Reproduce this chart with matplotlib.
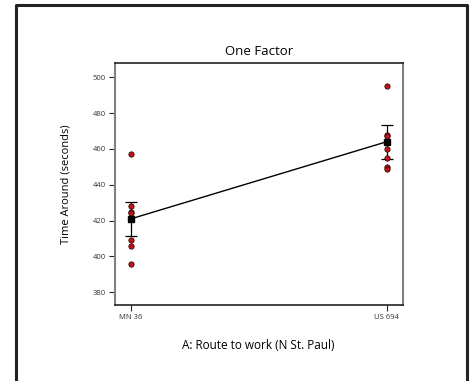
import matplotlib
matplotlib.use("Agg")
import matplotlib.pyplot as plt
from matplotlib.lines import Line2D

plt.rcParams['font.family'] = ['Open Sans', 'DejaVu Sans']

# route levels and observed times (seconds)
routes = ['MN 36', 'US 694']
obs_mn36 = [457, 428, 425, 424, 421, 409, 406, 396]
obs_us694 = [495, 468, 467, 464, 460, 455, 450, 449]
means = [421, 464]
lsd_low = [411.2, 454.4]
lsd_high = [430.5, 473.5]

RED = '#c0141c'

fig = plt.figure(figsize=(4.70, 3.81), dpi=100)
ax = fig.add_axes([0.244, 0.1995, 0.6128, 0.6344])

# mean line
x = list(range(len(routes)))
ax.plot(x, means, color='black', lw=1.0, zorder=2)

# LSD bars
for i in x:
    ax.errorbar([i], [means[i]],
                yerr=[[means[i] - lsd_low[i]], [lsd_high[i] - means[i]]],
                fmt='none', ecolor='black', elinewidth=0.9, capsize=4.3,
                capthick=0.9, zorder=2)

# observations
for i, obs in enumerate([obs_mn36, obs_us694]):
    ax.plot([i] * len(obs), obs, 'o', color=RED, mec='#3a0000', mew=0.6,
            ms=3.8, zorder=3)

# means
ax.plot(x, means, 's', color='black', ms=4, zorder=4)

ax.set_xlim(-0.064, 1.063)
ax.set_ylim(372.9, 507.8)
ax.set_xticks(x)
ax.set_xticklabels(routes)
ax.set_yticks([380, 400, 420, 440, 460, 480, 500])
ax.tick_params(axis='both', labelsize=5.5, length=4.5, width=0.8,
               color='#222222', labelcolor='#333333', pad=2)

ax.set_title('One Factor', fontsize=9.5, pad=6)
ax.set_xlabel('A: Route to work (N St. Paul)', fontsize=8.5, labelpad=13)
ax.set_ylabel('Time Around (seconds)', fontsize=8, labelpad=15)

for side in ['left', 'right']:
    ax.spines[side].set_color('#808080')
    ax.spines[side].set_linewidth(1.5)
for side in ['top', 'bottom']:
    ax.spines[side].set_color('#222222')
    ax.spines[side].set_linewidth(1.2)

# outer frame (open at the bottom)
fx = [15.5 / 470, 15.5 / 470, 466.5 / 470, 466.5 / 470]
fy = [-0.05, 1 - 4.5 / 381, 1 - 4.5 / 381, -0.05]
fig.add_artist(Line2D(fx, fy, transform=fig.transFigure, color='#222222', lw=2.2))

fig.savefig('out.png', dpi=100)
